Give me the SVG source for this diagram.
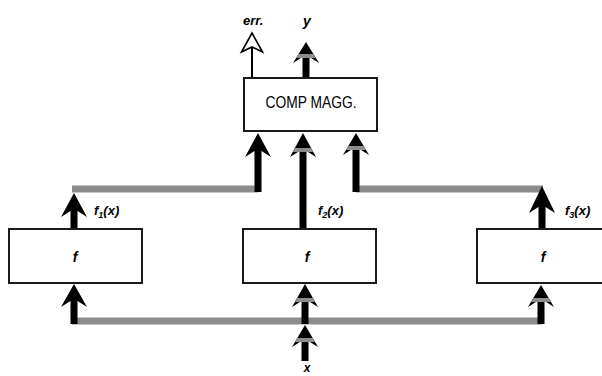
<svg xmlns="http://www.w3.org/2000/svg" width="602" height="376" viewBox="0 0 602 376">
  <style>
    .box { fill: #ffffff; stroke: #1a1a1a; stroke-width: 2; }
    .bus { fill: none; stroke: #8c8c8c; stroke-width: 7; }
    .arr { fill: #000000; stroke: none; }
    .band { fill: #8c8c8c; }
    .open { fill: #ffffff; stroke: #000000; stroke-width: 1.6; stroke-linejoin: miter; }
    .line { stroke: #000000; stroke-width: 2; fill: none; }
    .lbl { font-family: "Liberation Sans", Arial, sans-serif; font-style: italic; font-weight: bold; fill: #000000; }
    .title { font-family: "Liberation Sans", Arial, sans-serif; fill: #000000; font-size: 16px; }
  </style>
  <rect width="602" height="376" fill="#ffffff"/>

  <g id="connectors">
    <!-- gray buses -->
    <path class="bus" d="M72,189 H258"/>
    <path class="bus" d="M356,189 H543"/>
    <path class="bus" d="M72,321 H542"/>

    <!-- y output -->
    <path class="arr" d="M306,42 L319,63 L309.5,57 L309.5,78 L302.5,78 L302.5,57 L293,63 Z"/>
    <polygon class="band" points="298.5,54 313.5,54 315.9,58 296.1,58"/>
    <!-- err output (open head) -->
    <path class="line" d="M252,47 V78"/>
    <path class="open" d="M252,33 L262.5,52 L252,47 L241.5,52 Z"/>

    <!-- inputs to COMP MAGG -->
    <path class="arr" d="M258,133 L271,157 L261.5,151 L261.5,192 L254.5,192 L254.5,151 L245,157 Z"/>
    <path class="arr" d="M303,133 L316,157 L306.5,151 L306.5,229 L299.5,229 L299.5,151 L290,157 Z"/>
    <polygon class="band" points="294.9,148 311.1,148 313.3,152 292.7,152"/>
    <path class="arr" d="M356,133 L369,155 L359.5,149 L359.5,192 L352.5,192 L352.5,149 L343,155 Z"/>
    <polygon class="band" points="348.3,146 363.7,146 366,150 346,150"/>

    <!-- outputs of f boxes -->
    <path class="arr" d="M74,193 L87,217 L77.5,211 L77.5,229 L70.5,229 L70.5,211 L61,217 Z"/>
    <path class="arr" d="M542,186 L555,213 L545.5,207 L545.5,229 L538.5,229 L538.5,207 L529,213 Z"/>

    <!-- inputs to f boxes -->
    <path class="arr" d="M74,284 L87,307 L77.5,301 L77.5,324 L70.5,324 L70.5,301 L61,307 Z"/>
    <path class="arr" d="M305,284 L318,307 L308.5,301 L308.5,324 L301.5,324 L301.5,301 L292,307 Z"/>
    <polygon class="band" points="297.1,298 312.9,298 315.2,302 294.8,302"/>
    <path class="arr" d="M541,285 L554,307 L544.5,301 L544.5,324 L537.5,324 L537.5,301 L528,307 Z"/>
    <polygon class="band" points="533.3,298 548.7,298 551,302 531,302"/>

    <!-- x input -->
    <path class="arr" d="M305,325 L318,347 L308.5,341 L308.5,361 L301.5,361 L301.5,341 L292,347 Z"/>
    <polygon class="band" points="297.3,338 312.7,338 315,342 295,342"/>

    <!-- connector labels -->
    <text class="lbl" x="243" y="25" font-size="13">err.</text>
    <text class="lbl" x="307" y="26" font-size="14" text-anchor="middle">y</text>
    <text class="lbl" x="94" y="215" font-size="13">f<tspan font-size="9" dy="3">1</tspan><tspan dy="-3">(x)</tspan></text>
    <text class="lbl" x="318" y="215" font-size="13">f<tspan font-size="9" dy="3">2</tspan><tspan dy="-3">(x)</tspan></text>
    <text class="lbl" x="565" y="215" font-size="13">f<tspan font-size="9" dy="3">3</tspan><tspan dy="-3">(x)</tspan></text>
    <text class="lbl" x="307" y="372" font-size="12" text-anchor="middle">x</text>
  </g>

  <g id="comp">
    <rect class="box" x="244" y="78" width="133" height="53"/>
    <text class="title" x="311" y="108" text-anchor="middle" textLength="91" lengthAdjust="spacingAndGlyphs">COMP MAGG.</text>
  </g>

  <g id="f1">
    <rect class="box" x="9" y="229" width="133" height="54"/>
    <text class="lbl" x="75" y="262" font-size="14" text-anchor="middle">f</text>
  </g>

  <g id="f2">
    <rect class="box" x="243" y="229" width="133" height="54"/>
    <text class="lbl" x="307" y="262" font-size="14" text-anchor="middle">f</text>
  </g>

  <g id="f3">
    <path class="box" d="M612,229 H477 V283 H612"/>
    <text class="lbl" x="543" y="262" font-size="14" text-anchor="middle">f</text>
  </g>
</svg>
